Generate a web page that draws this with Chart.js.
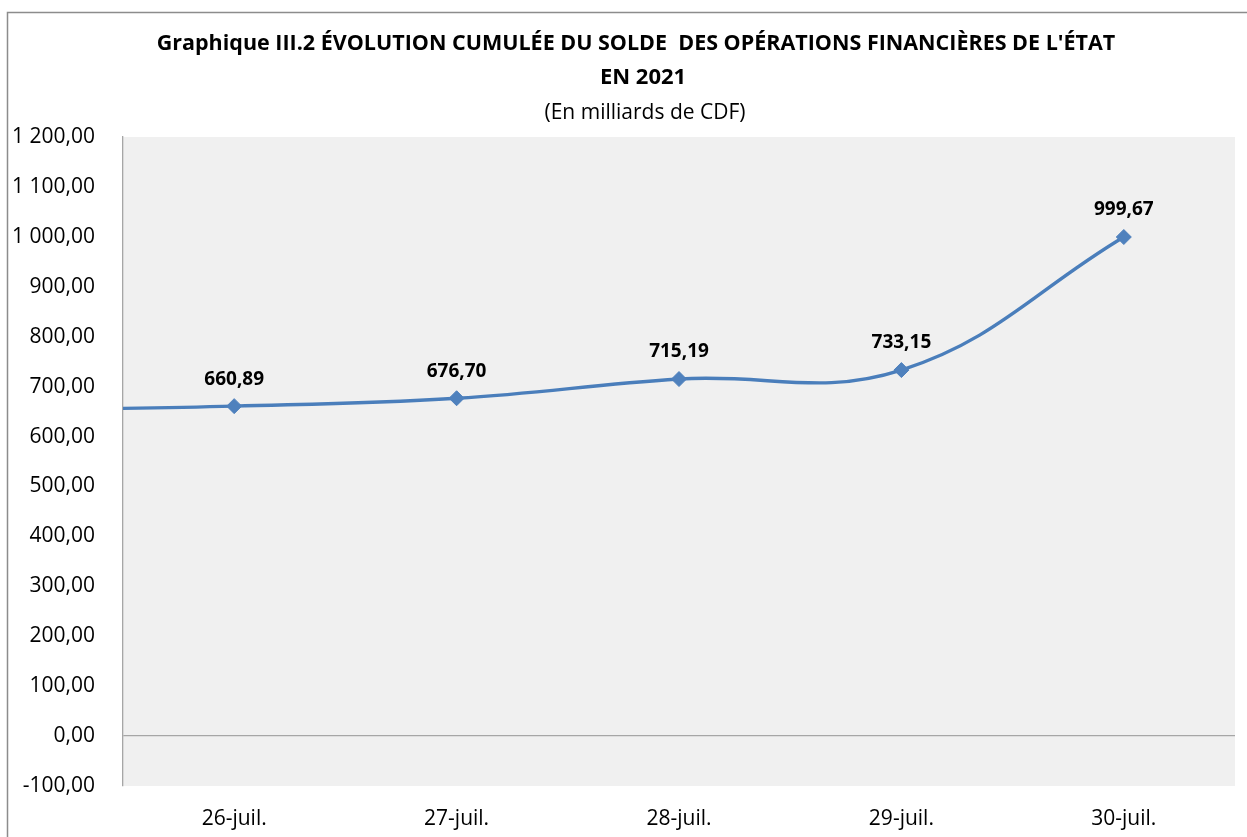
<!DOCTYPE html>
<html>
<head>
<meta charset="utf-8">
<script src="https://cdn.jsdelivr.net/npm/chart.js@4.4.1/dist/chart.umd.min.js"></script>
<style>
  html, body { margin: 0; padding: 0; background: #fff; }
  canvas { display: block; }
</style>
</head>
<body>
<canvas id="solde" width="1247" height="837"></canvas>
<script>
// first category is the day before the visible range; only its segment shows at the left edge
const DATES = ['25-juil.', '26-juil.', '27-juil.', '28-juil.', '29-juil.', '30-juil.'];
const SOLDE = [653, 660.89, 676.70, 715.19, 733.15, 999.67];
const FIRST_SHOWN = '26-juil.';
const Y_MIN = -100, Y_MAX = 1200, Y_STEP = 100;

const TITLE_1 = "Graphique III.2 ÉVOLUTION CUMULÉE DU SOLDE  DES OPÉRATIONS FINANCIÈRES DE L'ÉTAT";
const TITLE_2 = 'EN 2021';
const SUBTITLE = '(En milliards de CDF)';

const FONT = "'Open Sans', 'DejaVu Sans', sans-serif";
const LINE_BLUE = '#4A7EBB';
const AXIS_GREY = '#A6A6A6';

// 1200.5 -> "1 200,50"
function frNum(v) {
  const parts = Math.abs(v).toFixed(2).split('.');
  const int = parts[0].replace(/\B(?=(\d{3})+(?!\d))/g, ' ');
  return (v < 0 ? '-' : '') + int + ',' + parts[1];
}

/* ===== plot area background, outer frame, titles ===== */
const frame = {
  id: 'frame',
  beforeDraw(chart) {
    const { ctx, chartArea: a } = chart;
    ctx.save();
    ctx.fillStyle = '#fff';
    ctx.fillRect(0, 0, chart.width, chart.height);
    ctx.strokeStyle = '#8C8C8C';
    ctx.lineWidth = 1.5;
    ctx.strokeRect(7.5, 12.5, chart.width + 20, chart.height + 20);
    ctx.fillStyle = '#F0F0F0';
    ctx.fillRect(a.left, a.top, a.right - a.left, a.bottom - a.top);

    ctx.fillStyle = '#000';
    ctx.textAlign = 'center';
    ctx.textBaseline = 'alphabetic';
    ctx.font = 'bold 21.5px ' + FONT;
    ctx.fillText(TITLE_1, 636, 50);
    ctx.font = 'bold 22px ' + FONT;
    ctx.fillText(TITLE_2, 643, 84);
    ctx.font = '21px ' + FONT;
    ctx.fillText(SUBTITLE, 645, 119);
    ctx.restore();
  }
};

/* ===== value labels above the markers ===== */
const valueLabels = {
  id: 'valueLabels',
  afterDatasetsDraw(chart) {
    const { ctx, chartArea: a } = chart;
    const meta = chart.getDatasetMeta(0);
    ctx.save();
    ctx.font = 'bold 19px ' + FONT;
    ctx.fillStyle = '#000';
    ctx.textAlign = 'center';
    ctx.textBaseline = 'middle';
    meta.data.forEach((pt, i) => {
      if (pt.x < a.left || pt.x > a.right) return;
      ctx.fillText(frNum(SOLDE[i]), pt.x, pt.y - 27);
    });
    ctx.restore();
  }
};

new Chart(document.getElementById('solde'), {
  type: 'line',
  data: {
    labels: DATES,
    datasets: [{
      label: 'Solde cumulé',
      data: SOLDE,
      borderColor: LINE_BLUE, borderWidth: 3.4,
      backgroundColor: '#4F81BD',
      pointStyle: 'rectRot', pointRadius: 7.5, pointHoverRadius: 7.5,
      pointBackgroundColor: '#4F81BD', pointBorderColor: '#4F81BD', pointBorderWidth: 1,
      tension: 0.4, fill: false
    }]
  },
  options: {
    responsive: false, animation: false,
    events: [],
    layout: { padding: { left: 0, right: 12, top: 137, bottom: 0 } },
    plugins: {
      legend: { display: false },
      tooltip: { enabled: false },
      title: { display: false }
    },
    scales: {
      x: {
        min: FIRST_SHOWN,
        offset: true,
        grid: { display: false, drawTicks: false },
        border: { display: false },
        ticks: { color: '#000', font: { family: FONT, size: 21 }, padding: 20 },
        afterFit: s => { s.height = 51; }
      },
      y: {
        min: Y_MIN, max: Y_MAX,
        grid: {
          drawTicks: false,
          color: c => (c.tick && c.tick.value === 0 ? AXIS_GREY : 'transparent'),
          lineWidth: 1.3
        },
        border: { display: true, color: AXIS_GREY, width: 1.3 },
        ticks: {
          stepSize: Y_STEP, color: '#000', padding: 28,
          font: { family: FONT, size: 21 },
          callback: v => frNum(v)
        },
        afterFit: s => { s.width = 123; }
      }
    }
  },
  plugins: [frame, valueLabels]
});
</script>
</body>
</html>
